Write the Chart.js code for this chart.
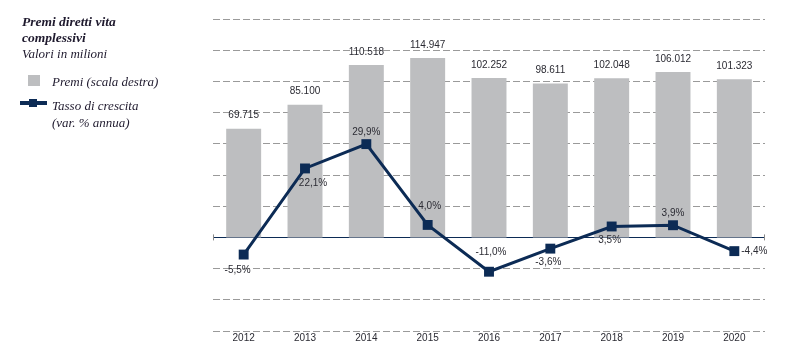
<!DOCTYPE html>
<html>
<head>
<meta charset="utf-8">
<script src="https://cdn.jsdelivr.net/npm/chart.js@4"></script>
<style>
  body { margin: 0; background: #fff; }
  #wrap { position: relative; width: 785px; height: 348px; }
  canvas { position: absolute; left: 0; top: 0; }
  .side { position: absolute; font-family: "Liberation Serif", "DejaVu Serif", serif; font-style: italic; color: #1f1a2e; font-size: 13px; line-height: 16px; }
  .title { left: 22px; top: 14px; font-weight: bold; font-size: 13.5px; }
  .sub { left: 22px; top: 46px; }
  .leg1 { left: 52px; top: 74px; }
  .leg2 { left: 52px; top: 97px; line-height: 17px; }
  .sq { position: absolute; left: 28px; top: 75px; width: 12px; height: 11px; background: #bdbec0; }
  .ln { position: absolute; left: 20px; top: 101px; width: 27px; height: 4px; background: #0c2b55; }
  .lnpt { position: absolute; left: 29px; top: 99px; width: 8px; height: 8px; background: #0c2b55; }
</style>
</head>
<body>
<div id="wrap">
  <canvas id="chart" width="785" height="348"></canvas>
  <div class="side title">Premi diretti vita<br>complessivi</div>
  <div class="side sub">Valori in milioni</div>
  <div class="sq"></div>
  <div class="side leg1">Premi (scala destra)</div>
  <div class="ln"></div><div class="lnpt"></div>
  <div class="side leg2">Tasso di crescita<br>(var. % annua)</div>
</div>
<script>
const years = ["2012", "2013", "2014", "2015", "2016", "2017", "2018", "2019", "2020"];
const premi = [69715, 85100, 110518, 114947, 102252, 98611, 102048, 106012, 101323];
const crescita = [-5.5, 22.1, 29.9, 4.0, -11.0, -3.6, 3.5, 3.9, -4.4];
const labelPlace = ["below-left", "below-right", "above", "above-far", "above-far", "below", "below", "above", "right"];

const navy = "#0c2b55";
const txt = "#2b2b33";
const sansFamily = '"Liberation Sans", Arial, sans-serif';

function fmtThousands(v) {
  return String(v).replace(/\B(?=(\d{3})+(?!\d))/g, ".");
}
function fmtPct(v) {
  return v.toFixed(1).replace(".", ",") + "%";
}

const valueLabels = {
  id: "valueLabels",
  afterDatasetsDraw(chart) {
    const ctx = chart.ctx;
    const area = chart.chartArea;
    const zeroY = chart.scales.y.getPixelForValue(0);
    ctx.save();
    // small end marks on the zero line
    ctx.strokeStyle = "#8a8a8a";
    ctx.lineWidth = 1;
    ctx.beginPath();
    ctx.moveTo(area.left + 0.5, zeroY - 3);
    ctx.lineTo(area.left + 0.5, zeroY + 3);
    ctx.moveTo(area.right - 0.5, zeroY - 3);
    ctx.lineTo(area.right - 0.5, zeroY + 3);
    ctx.stroke();

    ctx.font = "10px " + sansFamily;
    ctx.fillStyle = txt;
    ctx.textAlign = "center";
    ctx.textBaseline = "middle";
    chart.getDatasetMeta(1).data.forEach((bar, i) => {
      ctx.fillText(fmtThousands(premi[i]), bar.x, bar.y - 13);
    });
    const offs = {
      "below-left": [-6, 16], "below-right": [8, 15], "above": [0, -12],
      "above-far": [2, -19], "below": [-2, 14], "right": [20, 0]
    };
    chart.getDatasetMeta(0).data.forEach((pt, i) => {
      const o = offs[labelPlace[i]];
      ctx.fillText(fmtPct(crescita[i]), pt.x + o[0], pt.y + o[1]);
    });
    ctx.restore();
  }
};

new Chart(document.getElementById("chart").getContext("2d"), {
  data: {
    labels: years,
    datasets: [{
      type: "line",
      label: "Tasso di crescita",
      data: crescita,
      yAxisID: "y",
      borderColor: navy,
      backgroundColor: navy,
      borderWidth: 3,
      pointStyle: "rect",
      pointRadius: 7,
      pointBackgroundColor: navy,
      pointBorderWidth: 0,
      tension: 0,
      order: 1
    }, {
      type: "bar",
      label: "Premi",
      data: premi,
      yAxisID: "y1",
      backgroundColor: "#bdbec0",
      categoryPercentage: 1,
      barPercentage: 0.57,
      order: 2
    }]
  },
  options: {
    responsive: false,
    animation: false,
    layout: { padding: { left: 213, right: 20, top: 19, bottom: 2 } },
    plugins: { legend: { display: false }, tooltip: { enabled: false } },
    scales: {
      x: {
        grid: { display: false, drawTicks: false },
        border: { display: false },
        ticks: { color: txt, font: { family: sansFamily, size: 10 }, padding: 1 },
        afterFit(scale) { scale.height = 15; }
      },
      y: {
        position: "left",
        min: -30,
        max: 70,
        ticks: { display: false, stepSize: 10 },
        grid: {
          drawTicks: false,
          color: c => c.tick && c.tick.value === 0 ? navy : "#9a9a9a",
          lineWidth: 1
        },
        border: { display: false, dash: c => c.tick && c.tick.value === 0 ? [] : [7, 3] }
      },
      y1: {
        position: "right",
        display: false,
        min: -60000,
        max: 140000
      }
    }
  },
  plugins: [valueLabels]
});
</script>
</body>
</html>
